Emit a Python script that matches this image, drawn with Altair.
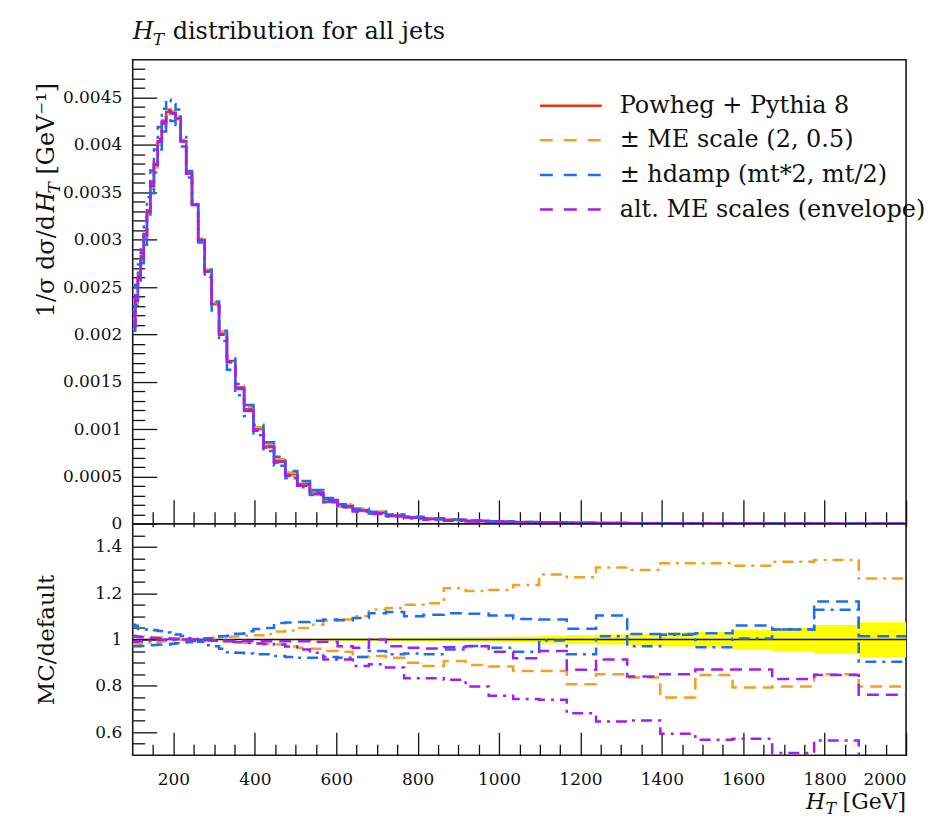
import altair as alt
import pandas as pd

# ---------------- data ----------------
# 50 bins in H_T [GeV]
edges = [100.0, 106.17, 112.73, 119.69, 127.08, 134.93, 143.26, 152.11, 161.50, 171.47,
         182.06, 193.30, 205.23, 217.91, 231.36, 245.65, 260.81, 276.92, 294.02, 312.17,
         331.45, 351.91, 373.64, 396.71, 421.21, 447.21, 474.83, 504.15, 535.28, 568.33,
         603.42, 640.68, 680.24, 722.24, 766.84, 814.18, 864.45, 917.83, 974.51, 1034.68,
         1098.56, 1166.39, 1238.41, 1314.88, 1396.07, 1482.27, 1573.80, 1670.98, 1774.16,
         1883.71, 2000.0]

# nominal Powheg + Pythia 8, 1/sigma dsigma/dHT [1/GeV]
nominal = [0.00210, 0.00238, 0.00262, 0.00283, 0.00303, 0.00331, 0.00358, 0.00380, 0.00404, 0.00423,
           0.00435, 0.00433, 0.00428, 0.00404, 0.00370, 0.00337, 0.00300, 0.00267, 0.00232, 0.00201,
           0.00172, 0.00144, 0.00121, 0.00100, 0.00082, 0.00066, 0.00052, 0.00042, 0.00033, 0.00025,
           0.00019, 0.000145, 0.000115, 0.000088, 0.000068, 0.000052, 0.000040, 0.000030, 0.000023, 0.000017,
           0.000013, 0.0000098, 0.0000073, 0.0000055, 0.0000041, 0.0000031, 0.0000023, 0.0000017, 0.0000012, 0.0000009]

# ratios MC / default
me_dashed = [1.015, 1.015, 1.014, 1.013, 1.012, 1.012, 1.011, 1.010, 1.009, 1.008,
             1.007, 1.006, 1.005, 1.004, 1.002, 1.000, 0.999, 0.997, 0.995, 0.992,
             0.990, 0.988, 0.986, 0.983, 0.981, 0.979, 0.970, 0.964, 0.960, 0.950,
             0.947, 0.924, 0.929, 0.921, 0.900, 0.886, 0.907, 0.890, 0.883, 0.864,
             0.864, 0.807, 0.850, 0.836, 0.750, 0.847, 0.793, 0.797, 0.850, 0.797]
me_dashdot = [0.980, 0.980, 0.982, 0.983, 0.985, 0.986, 0.988, 0.990, 0.990, 0.992,
              0.994, 0.996, 0.998, 1.000, 1.000, 1.002, 1.004, 1.006, 1.008, 1.010,
              1.012, 1.014, 1.016, 1.018, 1.024, 1.035, 1.039, 1.050, 1.064, 1.081,
              1.086, 1.100, 1.130, 1.136, 1.150, 1.157, 1.221, 1.210, 1.214, 1.236,
              1.281, 1.269, 1.311, 1.300, 1.329, 1.329, 1.319, 1.336, 1.343, 1.264]
hdamp_dashed = [0.971, 0.971, 0.971, 0.972, 0.972, 0.974, 0.975, 0.976, 0.978, 0.979,
                0.979, 0.982, 0.984, 0.986, 0.988, 0.994, 0.998, 1.005, 1.012, 1.014,
                1.016, 1.025, 1.036, 1.045, 1.050, 1.071, 1.073, 1.076, 1.081, 1.086,
                1.083, 1.093, 1.114, 1.119, 1.100, 1.107, 1.113, 1.111, 1.104, 1.089,
                1.086, 1.047, 1.104, 1.024, 1.024, 1.027, 1.061, 1.043, 1.164, 1.014]
hdamp_dashdot = [1.064, 1.060, 1.045, 1.043, 1.043, 1.042, 1.042, 1.040, 1.037, 1.036,
                 1.030, 1.024, 1.022, 1.015, 1.007, 1.000, 0.990, 0.975, 0.971, 0.960,
                 0.945, 0.943, 0.940, 0.936, 0.936, 0.929, 0.925, 0.921, 0.921, 0.924,
                 0.921, 0.924, 0.950, 0.936, 0.940, 0.936, 0.957, 0.972, 0.964, 0.947,
                 0.996, 0.936, 1.014, 0.971, 1.021, 0.967, 1.004, 1.043, 1.129, 0.904]
altme_dashed = [1.015, 1.013, 1.011, 1.010, 1.009, 1.008, 1.007, 1.006, 1.005, 1.004,
                1.003, 1.002, 1.001, 1.000, 1.000, 1.000, 0.999, 0.998, 0.997, 0.996,
                0.995, 0.995, 0.994, 0.994, 0.993, 0.993, 0.993, 0.992, 0.990, 0.990,
                0.971, 0.964, 1.000, 0.971, 0.964, 0.961, 0.967, 0.971, 0.947, 0.919,
                0.950, 0.869, 0.914, 0.840, 0.850, 0.871, 0.871, 0.829, 0.847, 0.761]
altme_dashdot = [0.990, 0.990, 0.992, 0.993, 0.994, 0.995, 0.996, 0.997, 0.998, 0.999,
                 1.000, 1.000, 1.000, 1.000, 1.000, 0.999, 0.998, 0.997, 0.995, 0.993,
                 0.990, 0.988, 0.985, 0.983, 0.981, 0.979, 0.970, 0.957, 0.943, 0.914,
                 0.914, 0.886, 0.893, 0.879, 0.833, 0.833, 0.826, 0.797, 0.757, 0.743,
                 0.740, 0.681, 0.646, 0.650, 0.593, 0.567, 0.571, 0.510, 0.564, 0.450]
# relative statistical uncertainty of the nominal (yellow band half width)
stat_rel = [0.002, 0.002, 0.0015, 0.0015, 0.0015, 0.0015, 0.0015, 0.0015, 0.0015, 0.0015,
            0.0015, 0.0015, 0.0015, 0.0015, 0.0015, 0.0015, 0.0015, 0.0018, 0.0018, 0.002,
            0.002, 0.002, 0.0025, 0.0025, 0.003, 0.003, 0.0035, 0.004, 0.0045, 0.005,
            0.0055, 0.006, 0.007, 0.0075, 0.008, 0.009, 0.010, 0.011, 0.012, 0.013,
            0.016, 0.019, 0.022, 0.025, 0.030, 0.034, 0.041, 0.052, 0.063, 0.075]

legend_labels = ["Powheg + Pythia 8", "\u00b1 ME scale (2, 0.5)",
                 "\u00b1 hdamp (mt*2, mt/2)", "alt. ME scales (envelope)"]

x_major_ticks = [200, 400, 600, 800, 1000, 1200, 1400, 1600, 1800, 2000]
x_minor_ticks = [v for v in range(150, 2000, 50) if v % 200 != 0]
y_main_major = [0, 0.0005, 0.001, 0.0015, 0.002, 0.0025, 0.003, 0.0035, 0.004, 0.0045]
y_main_minor = [round(k * 0.0001, 4) for k in range(1, 49) if k % 5 != 0]
y_ratio_major = [0.6, 0.8, 1.0, 1.2, 1.4]
y_ratio_minor = [0.55, 0.65, 0.7, 0.75, 0.85, 0.9, 0.95, 1.05, 1.1, 1.15, 1.25, 1.3, 1.35, 1.45]

# ---------------- styling ----------------
FONT = "DejaVu Serif"
W, H_MAIN, H_RATIO = 775, 465, 232
RED, ORANGE, BLUE, PURPLE = "#EE3311", "#F2A11F", "#1E6EF0", "#A020F0"
DASH = [12, 7]
DASHDOT = [11, 6, 3, 6]
LW = 2.5

xs = alt.Scale(domain=[100, 2000], nice=False, zero=False)
ys_main = alt.Scale(domain=[0, 0.0049], nice=False, zero=False)
ys_ratio = alt.Scale(domain=[0.5, 1.5], nice=False, zero=False)
ONE = pd.DataFrame({"k": [0]})


def step_frame(values):
    xv, yv, ov = [], [], []
    for i, v in enumerate(values):
        xv += [edges[i], edges[i + 1]]
        yv += [v, v]
        ov += [2 * i, 2 * i + 1]
    return pd.DataFrame({"x": xv, "y": yv, "o": ov})


def step_line(values, yscale, color, dash=None, width=LW):
    mk = dict(color=color, strokeWidth=width, clip=True, strokeJoin="miter")
    if dash:
        mk["strokeDash"] = dash
    return alt.Chart(step_frame(values)).mark_line(**mk).encode(
        x=alt.X("x:Q", scale=xs, axis=None),
        y=alt.Y("y:Q", scale=yscale, axis=None),
        order=alt.Order("o:Q"),
    )


def axis_layer(yscale, ymid, xaxis=None, yaxis=None):
    return alt.Chart(pd.DataFrame({"x": [1000.0], "y": [ymid]})).mark_point(opacity=0).encode(
        x=alt.X("x:Q", scale=xs, axis=xaxis),
        y=alt.Y("y:Q", scale=yscale, axis=yaxis),
    )


def tick_axis(orient, values, size):
    return alt.Axis(orient=orient, values=values, tickSize=size, offset=-size, labels=False,
                    domain=False, grid=False, title=None, ticks=True, tickColor="#111111",
                    tickWidth=1.3)


def text(t, x, y, size, italic=False, align="left", angle=0, baseline="alphabetic"):
    mk = dict(text=t, font=FONT, fontSize=size, align=align, baseline=baseline, color="#111111")
    if italic:
        mk["fontStyle"] = "italic"
    if angle:
        mk["angle"] = angle
    return alt.Chart(ONE).mark_text(**mk).encode(x=alt.value(x), y=alt.value(y))


def scaled(ratio):
    return [n * r for n, r in zip(nominal, ratio)]


# ---------------- main panel ----------------
main_layers = [
    step_line(nominal, ys_main, RED),
    step_line(scaled(me_dashed), ys_main, ORANGE, DASH),
    step_line(scaled(me_dashdot), ys_main, ORANGE, DASHDOT),
    step_line(scaled(hdamp_dashed), ys_main, BLUE, DASH),
    step_line(scaled(hdamp_dashdot), ys_main, BLUE, DASHDOT),
    step_line(scaled(altme_dashed), ys_main, PURPLE, DASH),
    step_line(scaled(altme_dashdot), ys_main, PURPLE, DASHDOT),
    axis_layer(ys_main, 0.002, xaxis=tick_axis("bottom", x_major_ticks, 24)),
    axis_layer(ys_main, 0.002, xaxis=tick_axis("bottom", x_minor_ticks, 12)),
    axis_layer(ys_main, 0.002, yaxis=tick_axis("left", y_main_major, 24)),
    axis_layer(ys_main, 0.002, yaxis=tick_axis("left", y_main_minor, 12)),
    axis_layer(ys_main, 0.002, yaxis=alt.Axis(orient="left", values=y_main_major, ticks=False,
                                              tickSize=0, labelPadding=11, format="~g",
                                              labelFontSize=17, domain=False, grid=False,
                                              title=None)),
]

# legend
leg_colors = [RED, ORANGE, BLUE, PURPLE]
leg_dash = [None, [13, 11], [13, 11], [13, 11]]
for i, (lab, c, d) in enumerate(zip(legend_labels, leg_colors, leg_dash)):
    ry = 46 + i * 34.7
    mk = dict(color=c, strokeWidth=LW)
    if d:
        mk["strokeDash"] = d
    main_layers.append(alt.Chart(ONE).mark_rule(**mk).encode(
        x=alt.value(408), x2=alt.value(470), y=alt.value(ry)))
    main_layers.append(text(lab, 488, ry, 24, baseline="middle"))

# plot title
main_layers += [
    text("H", 0, -21, 24, italic=True),
    text("T", 20, -15, 17, italic=True),
    text("distribution for all jets", 40, -21, 24),
]
# y title (rotated, read bottom to top)
YT_X = -79
main_layers += [
    text("1/\u03c3 d\u03c3/d", YT_X, 258, 24, angle=270),
    text("H", YT_X, 153, 24, italic=True, angle=270),
    text("T", YT_X + 6, 134, 17, italic=True, angle=270),
    text("[GeV\u207b\u00b9]", YT_X, 115, 24, angle=270),
]

main = alt.layer(*main_layers).resolve_axis(x="independent", y="independent").properties(
    width=W, height=H_MAIN)

# ---------------- ratio panel ----------------
band = pd.DataFrame({
    "x": edges[:-1], "x2": edges[1:],
    "lo": [1 - e for e in stat_rel], "hi": [1 + e for e in stat_rel],
})
ratio_layers = [
    alt.Chart(band).mark_rect(color="#FFFF00", clip=True).encode(
        x=alt.X("x:Q", scale=xs, axis=None), x2="x2:Q",
        y=alt.Y("lo:Q", scale=ys_ratio, axis=None), y2="hi:Q"),
    alt.Chart(ONE).mark_rule(color="#111111", strokeWidth=1.6).encode(
        x=alt.value(0), x2=alt.value(W), y=alt.Y(datum=1.0, scale=ys_ratio, axis=None)),
    step_line(me_dashed, ys_ratio, ORANGE, DASH),
    step_line(me_dashdot, ys_ratio, ORANGE, DASHDOT),
    step_line(hdamp_dashed, ys_ratio, BLUE, DASH),
    step_line(hdamp_dashdot, ys_ratio, BLUE, DASHDOT),
    step_line(altme_dashed, ys_ratio, PURPLE, DASH),
    step_line(altme_dashdot, ys_ratio, PURPLE, DASHDOT),
    axis_layer(ys_ratio, 1.0, xaxis=alt.Axis(orient="bottom", values=x_major_ticks, ticks=False,
                                             tickSize=0, labelPadding=16, format="d",
                                             labelFontSize=17, domain=False, grid=False,
                                             title=None)),
    axis_layer(ys_ratio, 1.0, xaxis=tick_axis("bottom", x_major_ticks, 23)),
    axis_layer(ys_ratio, 1.0, xaxis=tick_axis("bottom", x_minor_ticks, 11)),
    axis_layer(ys_ratio, 1.0, xaxis=tick_axis("top", x_major_ticks + x_minor_ticks, 3)),
    axis_layer(ys_ratio, 1.0, yaxis=tick_axis("left", y_ratio_major, 24)),
    axis_layer(ys_ratio, 1.0, yaxis=tick_axis("left", y_ratio_minor, 12)),
    axis_layer(ys_ratio, 1.0, yaxis=alt.Axis(orient="left", values=y_ratio_major, ticks=False,
                                             tickSize=0, labelPadding=11, format="~g",
                                             labelFontSize=17, domain=False, grid=False,
                                             title="MC/default", titleFontSize=23,
                                             titleFontWeight="normal", titleX=-79,
                                             titleY=H_RATIO / 2, titleAngle=270,
                                             titleAlign="center", titleBaseline="alphabetic")),
    # x title
    text("[GeV]", W, 286, 22, align="right"),
    text("T", W - 70, 291, 16, italic=True, align="right"),
    text("H", W - 81, 286, 22, italic=True, align="right"),
]

ratio = alt.layer(*ratio_layers).resolve_axis(x="independent", y="independent").properties(
    width=W, height=H_RATIO)

chart = alt.vconcat(main, ratio, spacing=0, bounds="flush").configure_view(
    stroke="#1a1a1a", strokeWidth=1.6
).configure_axis(
    grid=False, domain=False, labelFont=FONT, titleFont=FONT,
    labelColor="#111111", titleColor="#111111", tickColor="#111111"
).properties(
    padding={"left": 34, "top": 18, "right": 10, "bottom": 10},
    background="white",
)

chart.save("out.html", embed_options={"renderer": "svg", "actions": False})
